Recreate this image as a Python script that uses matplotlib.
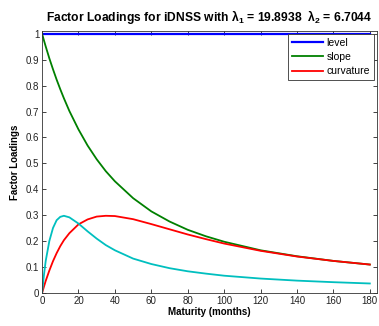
import matplotlib
matplotlib.use("Agg")
import matplotlib.pyplot as plt

plt.rcParams['font.family'] = ['Liberation Sans', 'DejaVu Sans']
plt.rcParams['mathtext.default'] = 'regular'

# maturities (months) and factor loadings
maturity = [0, 1, 2, 4, 6, 8, 10, 12, 15, 20, 25, 30, 35, 40, 50, 60, 70, 80, 90, 100, 120, 140, 160, 180]
level = [1.0] * len(maturity)
slope = [1.0, 0.975, 0.951, 0.905, 0.863, 0.823, 0.786, 0.751, 0.702, 0.631, 0.569, 0.516, 0.470, 0.431,
         0.366, 0.315, 0.276, 0.244, 0.219, 0.198, 0.165, 0.142, 0.124, 0.110]
curvature = [0.0, 0.024, 0.047, 0.087, 0.123, 0.154, 0.181, 0.204, 0.231, 0.265, 0.284, 0.295, 0.298, 0.297,
             0.285, 0.266, 0.246, 0.226, 0.208, 0.191, 0.163, 0.141, 0.124, 0.110]
curvature2 = [0.0, 0.068, 0.124, 0.201, 0.251, 0.281, 0.294, 0.298, 0.292, 0.268, 0.238, 0.210, 0.185, 0.165,
              0.133, 0.112, 0.096, 0.084, 0.075, 0.067, 0.056, 0.048, 0.042, 0.037]

fig = plt.figure(figsize=(3.79, 3.26), dpi=100)
ax = fig.add_axes([0.111, 0.101, 0.884, 0.805])

ax.plot(maturity, level, color=(0, 0, 1), lw=1.6, label='level')
ax.plot(maturity, slope, color=(0, 0.5, 0), lw=1.3, label='slope')
ax.plot(maturity, curvature, color=(1, 0, 0), lw=1.3, label='curvature')
ax.plot(maturity, curvature2, color=(0, 0.75, 0.75), lw=1.3)

ax.set_xlim(0, 184)
ax.set_ylim(0, 1.012)
ax.set_xticks(range(0, 181, 20))
ax.set_yticks([0, 0.1, 0.2, 0.3, 0.4, 0.5, 0.6, 0.7, 0.8, 0.9, 1])
ax.set_yticklabels(['0', '0.1', '0.2', '0.3', '0.4', '0.5', '0.6', '0.7', '0.8', '0.9', '1'])
ax.tick_params(direction='in', top=True, right=True, length=3, width=0.6, labelsize=7, colors='#222222', pad=2)
for s in ax.spines.values():
    s.set_linewidth(0.6)
    s.set_color('#333333')

ax.set_xlabel('Maturity (months)', fontsize=7, fontweight='bold', labelpad=1)
ax.set_ylabel('Factor Loadings', fontsize=7, fontweight='bold', labelpad=4)
ax.set_title(r'Factor Loadings for iDNSS with $\lambda_1$ = 19.8938  $\lambda_2$ = 6.7044',
             fontsize=8.7, fontweight='bold', pad=7)

leg = ax.legend(loc='upper right', fontsize=7.5, handlelength=3, fancybox=False, framealpha=1,
                edgecolor='#333333', borderaxespad=0.3, labelspacing=0.4, handletextpad=0.3,
                borderpad=0.4)
leg.get_frame().set_linewidth(0.6)

fig.savefig('out.png', dpi=100)
